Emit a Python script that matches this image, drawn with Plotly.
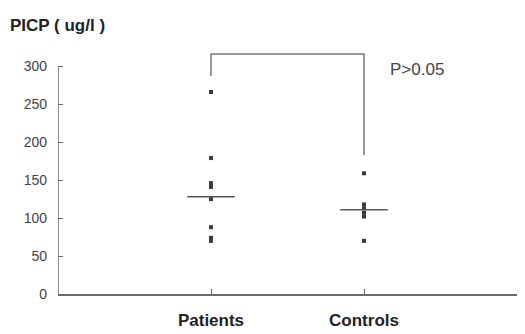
import plotly.graph_objects as go

categories = ["Patients", "Controls"]
cat_pos = [1, 2]
patients = [266, 179, 146, 141, 125, 88, 74, 70]
controls = [159, 118, 113, 107, 102, 70]
center_lines = [128, 111]
yticks = [0, 50, 100, 150, 200, 250, 300]
bracket_y = [287, 316, 316, 183]
p_text = "P>0.05"

FONT = "Liberation Sans, Arial, sans-serif"
GRAY = "#6a6a6a"
PT = "#3a3a3a"

fig = go.Figure()

fig.add_trace(go.Scatter(x=[cat_pos[0]] * len(patients), y=patients, mode="markers",
                         marker=dict(symbol="square", size=4, color=PT), showlegend=False))
fig.add_trace(go.Scatter(x=[cat_pos[1]] * len(controls), y=controls, mode="markers",
                         marker=dict(symbol="square", size=4, color=PT), showlegend=False))

hw = 0.155
for xp, v in zip(cat_pos, center_lines):
    fig.add_trace(go.Scatter(x=[xp - hw, xp + hw], y=[v, v], mode="lines",
                             line=dict(color="#555555", width=1.5), showlegend=False))

fig.add_trace(go.Scatter(x=[cat_pos[0], cat_pos[0], cat_pos[1], cat_pos[1]], y=bracket_y,
                         mode="lines", line=dict(color="#777777", width=1.5), showlegend=False))

# y-axis line from 0 to 300
fig.add_trace(go.Scatter(x=[0, 0], y=[yticks[0], yticks[-1]], mode="lines",
                         line=dict(color=GRAY, width=1.5), showlegend=False, cliponaxis=False))

fig.add_annotation(x=2.157, y=295, xref="x", yref="y", text=p_text, showarrow=False,
                   xanchor="left", yanchor="middle", font=dict(family=FONT, size=17, color="#444444"))

fig.update_layout(
    width=525, height=334,
    margin=dict(l=58, r=8, t=51, b=40),
    paper_bgcolor="white", plot_bgcolor="white",
    title=dict(text="<b>PICP ( ug/l )</b>", x=10 / 525, xanchor="left",
               y=1 - 25 / 334, yanchor="middle", font=dict(family=FONT, size=17, color="#222222")),
    xaxis=dict(range=[0, 3], tickvals=[1, 2, 3], ticktext=["<b>%s</b>" % c for c in categories] + [""],
               ticks="inside", ticklen=5, tickcolor=GRAY, showline=True, linecolor=GRAY, linewidth=1.5,
               showgrid=False, zeroline=False, ticklabelstandoff=10, automargin=False,
               tickfont=dict(family=FONT, size=17, color="#222222")),
    yaxis=dict(range=[0, 320], tickvals=yticks, ticks="inside", ticklen=5, tickcolor=GRAY,
               showline=False, showgrid=False, zeroline=False, ticklabelstandoff=10, automargin=False,
               tickfont=dict(family=FONT, size=14, color="#444444")),
)

fig.write_html("out.html")
